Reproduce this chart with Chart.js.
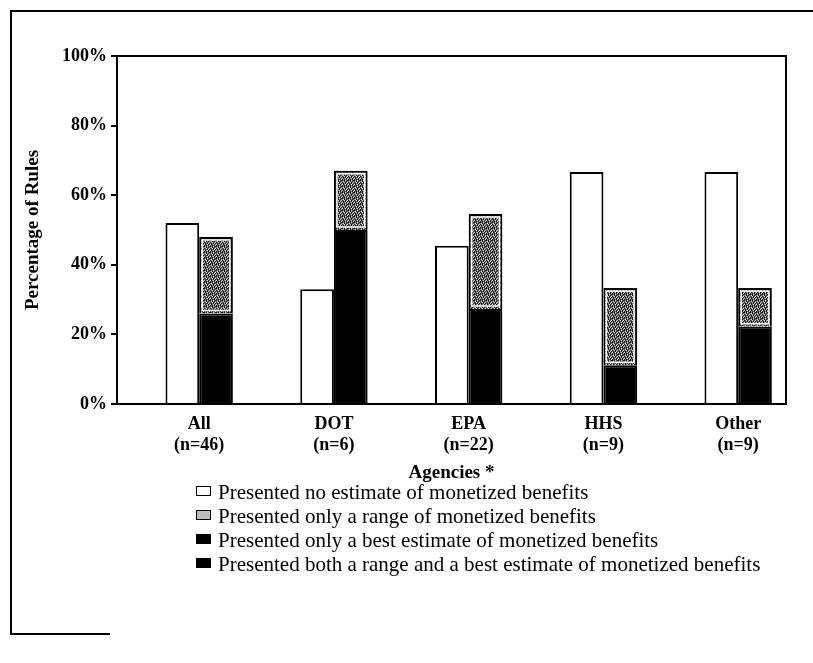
<!DOCTYPE html>
<html>
<head>
<meta charset="utf-8">
<script src="https://cdn.jsdelivr.net/npm/chart.js@4.4.0/dist/chart.umd.min.js"></script>
<style>
  body { margin: 0; background: #fff; font-family: 'Liberation Serif', serif; }
  #wrap { position: relative; width: 813px; height: 663px; }
  #frame { position: absolute; left: 10px; top: 10px; width: 803px; height: 623px;
           border-left: 2px solid #000; border-top: 2px solid #000; }
  #frameBottom { position: absolute; left: 10px; top: 633px; width: 100px; border-top: 2px solid #000; }
  canvas { position: absolute; left: 0; top: 0; }
  #legend { position: absolute; left: 196px; top: 480px; font-size: 21px; color: #000; }
  .item { height: 24px; line-height: 24px; white-space: nowrap; }
  .box { display: inline-block; width: 13px; height: 8px; border: 1.5px solid #000;
         vertical-align: middle; margin-right: 7px; position: relative; top: -3px; }
</style>
</head>
<body>
<div id="wrap">
  <div id="frame"></div>
  <div id="frameBottom"></div>
  <canvas id="chart" width="813" height="485"></canvas>
  <div id="legend"></div>
</div>
<script>
// categories and values (% of rules)
const agencies = ['All', 'DOT', 'EPA', 'HHS', 'Other'];
const counts = ['(n=46)', '(n=6)', '(n=22)', '(n=9)', '(n=9)'];
const noEstimate = [52, 33, 45.5, 66.7, 66.7];
const bestOnly = [26, 50, 27.3, 11.1, 22.2];
const bothRangeBest = [0, 0, 0, 0, 0];
const rangeOnly = [22, 17, 27.3, 22.2, 11.1];

const legendLabels = [
    'Presented no estimate of monetized benefits',
    'Presented only a range of monetized benefits',
    'Presented only a best estimate of monetized benefits',
    'Presented both a range and a best estimate of monetized benefits'
];

// speckled grey fill like the scanned original
function speckle() {
    const rows = [
        'kgkwgk',
        'gwkgkg',
        'kgwkgw',
        'gkgkwk',
        'wkgwkg',
        'kgkgkw'
    ];
    const c = document.createElement('canvas');
    c.width = 6; c.height = 6;
    const g = c.getContext('2d');
    const col = { k: '#111', g: '#777', w: '#ddd' };
    rows.forEach((r, y) => {
        r.split('').forEach((ch, x) => {
            g.fillStyle = col[ch];
            g.fillRect(x, y, 1, 1);
        });
    });
    return g.createPattern(c, 'repeat');
}
const rangeFill = speckle();

// thin white line just inside the grey segments (as in the original print)
const innerEdge = {
    id: 'innerEdge',
    afterDatasetsDraw(chart) {
        const meta = chart.getDatasetMeta(3);
        const c = chart.ctx;
        c.save();
        c.strokeStyle = '#fff';
        c.lineWidth = 1.5;
        meta.data.forEach(bar => {
            const p = bar.getProps(['x', 'y', 'base', 'width'], true);
            const l = p.x - p.width / 2 + 3, r = p.x + p.width / 2 - 3;
            const t = Math.min(p.y, p.base) + 3, b = Math.max(p.y, p.base) - 3;
            if (b > t) c.strokeRect(l, t, r - l, b - t);
        });
        c.restore();
    }
};

const pts = arr => arr.map((v, i) => ({ x: i, y: v }));
const serif = 'Liberation Serif';

const ctx = document.getElementById('chart').getContext('2d');
new Chart(ctx, {
    type: 'bar',
    data: {
        datasets: [
            { label: legendLabels[0], data: pts(noEstimate), stack: 'none',
              backgroundColor: '#fff', borderColor: '#000', borderWidth: 2 },
            { label: legendLabels[2], data: pts(bestOnly), stack: 'est',
              backgroundColor: '#000', borderColor: '#000', borderWidth: 2 },
            { label: legendLabels[3], data: pts(bothRangeBest), stack: 'est',
              backgroundColor: '#000', borderColor: '#000', borderWidth: 0 },
            { label: legendLabels[1], data: pts(rangeOnly), stack: 'est',
              backgroundColor: rangeFill, borderColor: '#000', borderWidth: 2 }
        ]
    },
    options: {
        responsive: false,
        animation: false,
        layout: { padding: { left: 18, right: 27, top: 56, bottom: 0 } },
        datasets: { bar: { categoryPercentage: 0.5, barPercentage: 1.0 } },
        plugins: { legend: { display: false }, tooltip: { enabled: false } },
        scales: {
            x: {
                type: 'linear',
                offset: false,
                min: -0.61,
                max: 4.355,
                grid: { display: true, drawOnChartArea: false, drawTicks: false },
                border: { color: '#000', width: 2 },
                ticks: {
                    stepSize: 1,
                    includeBounds: false,
                    padding: 10,
                    color: '#000',
                    font: { family: serif, size: 18, weight: 'bold', lineHeight: 1.15 },
                    callback: v => Number.isInteger(v) && agencies[v] ? [agencies[v], counts[v]] : ''
                },
                title: {
                    display: true,
                    text: 'Agencies *',
                    color: '#000',
                    padding: { top: 4, bottom: 1 },
                    font: { family: serif, size: 19, weight: 'bold' }
                },
                afterFit: s => { s.height = 81; }
            },
            y: {
                stacked: true,
                min: 0,
                max: 100,
                grid: {
                    drawOnChartArea: true,
                    color: c => c.tick && c.tick.value === 100 ? '#000' : 'rgba(0,0,0,0)',
                    tickColor: '#000',
                    tickLength: 6,
                    lineWidth: 2
                },
                border: { color: '#000', width: 2 },
                ticks: {
                    stepSize: 20,
                    padding: 4,
                    color: '#000',
                    font: { family: serif, size: 18, weight: 'bold' },
                    callback: v => v + '%'
                },
                title: {
                    display: true,
                    text: 'Percentage of Rules',
                    color: '#000',
                    font: { family: serif, size: 19, weight: 'bold' }
                },
                afterFit: s => { s.width = 99; }
            },
            y2: {
                position: 'right',
                min: 0,
                max: 100,
                ticks: { display: false },
                grid: { drawOnChartArea: false, drawTicks: false },
                border: { color: '#000', width: 2 },
                afterFit: s => { s.width = 0; }
            }
        }
    },
    plugins: [innerEdge]
});

// legend in the same order as the original
const legendFills = ['#fff', '#bbb', '#000', '#000'];
const legendEl = document.getElementById('legend');
legendLabels.forEach((txt, i) => {
    const row = document.createElement('div');
    row.className = 'item';
    const b = document.createElement('span');
    b.className = 'box';
    b.style.background = legendFills[i];
    row.appendChild(b);
    row.appendChild(document.createTextNode(txt));
    legendEl.appendChild(row);
});
</script>
</body>
</html>
